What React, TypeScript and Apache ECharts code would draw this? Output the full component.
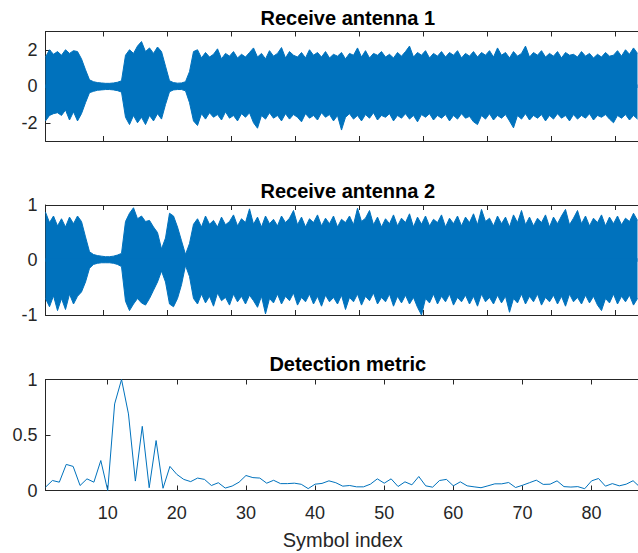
import React, { useEffect, useRef } from "react";
import * as echarts from "echarts";

// ---------- data ----------
// Envelope of the received signals, one value per 4-px column (column index on the x axis)
const ANT1_UPPER = [
  1.6, 2.0, 1.75, 1.9, 1.7, 2.0, 1.8, 1.95, 1.9, 1.5,
  0.9, 0.35,
  0.25, 0.2, 0.18, 0.16, 0.16, 0.18, 0.22, 0.3,
  1.7, 2.0, 1.8, 2.2, 2.45, 1.9, 2.1, 1.8, 2.15, 1.9, 1.1,
  0.3, 0.2, 0.17, 0.18, 0.25,
  0.8, 1.9, 2.0, 1.55, 1.85, 1.6, 1.75, 2.05, 1.5, 1.8,
  1.65, 1.9, 1.55, 1.75, 1.6, 1.85, 2.1, 1.6, 1.8, 1.5,
  1.95, 1.65, 1.8, 2.12, 1.55, 1.9, 1.7, 1.6, 1.85, 1.55,
  2.0, 1.7, 1.85, 1.6, 1.9, 1.55, 1.75, 1.65, 1.85, 1.5,
  1.8, 1.7, 2.1, 1.6, 1.95, 1.55, 1.8, 1.7, 1.9, 1.6,
  1.75, 1.55, 1.85, 1.65, 1.9, 2.2, 1.6, 1.85, 1.7, 1.95,
  1.55, 1.8, 1.65, 1.9, 1.6, 1.85, 1.7, 1.95, 1.55, 1.8,
  1.65, 1.9, 1.6, 1.85, 1.7, 1.95, 1.6, 2.1, 1.7, 1.85,
  1.55, 1.9, 1.65, 1.8, 2.2, 1.6, 1.85, 1.7, 1.95, 1.6,
  1.8, 1.65, 1.9, 1.55, 1.85, 1.7, 1.75, 1.6, 1.9, 1.65,
  1.8, 1.55, 1.75, 1.6, 1.85, 1.65, 1.7, 1.95, 1.65, 2.0,
  1.75, 2.1, 1.8,
];
const ANT1_LOWER = [
  -1.9, -1.6, -1.5, -1.45, -1.6, -1.3, -1.85, -1.4, -1.9, -1.5,
  -0.9, -0.35,
  -0.28, -0.22, -0.2, -0.18, -0.18, -0.2, -0.24, -0.32,
  -1.7, -2.1, -1.6, -2.0, -1.7, -2.1, -1.6, -1.9, -1.5, -1.8, -1.0,
  -0.3, -0.2, -0.18, -0.18, -0.25,
  -0.9, -1.9, -2.15, -1.5, -1.8, -1.45, -1.7, -1.55, -1.85, -1.4,
  -1.75, -1.6, -1.9, -1.5, -1.7, -1.45, -2.0, -2.3, -1.6, -1.8,
  -1.45, -1.75, -1.6, -1.9, -1.5, -1.8, -1.55, -1.7, -1.95, -1.5,
  -1.75, -1.6, -1.85, -1.45, -1.7, -1.55, -1.9, -1.6, -2.4, -1.7,
  -1.5, -1.8, -1.6, -1.9, -1.55, -1.75, -1.45, -1.85, -1.6, -1.7,
  -1.5, -1.9, -1.6, -1.75, -1.5, -1.8, -1.6, -1.95, -1.55, -1.7,
  -1.5, -1.85, -1.6, -1.75, -1.55, -1.9, -1.6, -1.8, -1.5, -1.75,
  -1.65, -1.95, -2.1, -1.6, -1.8, -1.5, -1.85, -1.6, -1.75, -1.55,
  -1.9, -2.28, -1.6, -1.8, -1.5, -1.85, -1.6, -1.75, -1.55, -1.9,
  -1.6, -1.8, -1.5, -1.75, -1.6, -1.9, -1.55, -1.8, -1.6, -1.75,
  -1.5, -1.85, -1.6, -1.7, -1.55, -1.8, -2.0, -1.6, -1.75, -1.55,
  -1.85, -1.6, -1.8,
];
const ANT2_UPPER = [
  0.87, 0.68, 0.8, 0.62, 0.75, 0.6, 0.78, 0.66, 0.8, 0.7,
  0.42, 0.15,
  0.1, 0.08, 0.07, 0.06, 0.06, 0.07, 0.09, 0.12,
  0.7, 0.85, 0.95, 0.75, 0.8, 0.7, 0.72, 0.6, 0.5, 0.2,
  0.4, 0.85, 0.8, 0.6, 0.35, 0.1, 0.3, 0.65,
  0.75, 0.6, 0.8, 0.65, 0.72, 0.6, 0.78, 0.64, 0.7, 0.82,
  0.62, 0.75, 0.68, 0.93, 0.65, 0.78, 0.6, 0.8, 0.66, 0.74,
  0.62, 0.8, 0.68, 0.76, 0.9, 0.64, 0.78, 0.6, 0.75, 0.68,
  0.82, 0.62, 0.76, 0.66, 0.8, 0.6, 0.74, 0.68, 0.8, 0.64,
  0.94, 0.7, 0.76, 0.9, 0.64, 0.78, 0.6, 0.75, 0.66, 0.82,
  0.62, 0.76, 0.68, 0.84, 0.6, 0.78, 0.65, 0.8, 0.62, 0.74,
  0.68, 0.82, 0.6, 0.76, 0.66, 0.8, 0.62, 0.78, 0.68, 0.84,
  0.64, 0.92, 0.7, 0.76, 0.62, 0.8, 0.66, 0.78, 0.6, 0.82,
  0.68, 0.9, 0.64, 0.78, 0.62, 0.76, 0.68, 0.82, 0.6, 0.78,
  0.66, 0.8, 0.92, 0.64, 0.76, 0.9, 0.66, 0.8, 0.62, 0.76,
  0.68, 0.82, 0.62, 0.78, 0.66, 0.8, 0.64, 0.76, 0.7, 0.85,
  0.72,
];
const ANT2_LOWER = [
  -0.7, -0.85, -0.65, -0.92, -0.7, -0.9, -0.62, -0.8, -0.66, -0.58,
  -0.4, -0.15,
  -0.08, -0.06, -0.05, -0.05, -0.05, -0.06, -0.08, -0.12,
  -0.75, -0.92, -0.8, -0.7, -0.78, -0.82, -0.7, -0.55, -0.4, -0.2,
  -0.4, -0.8, -0.85, -0.7, -0.45, -0.1, -0.3, -0.7,
  -0.8, -0.62, -0.78, -0.66, -0.84, -0.6, -0.74, -0.68, -0.82, -0.62,
  -0.76, -0.66, -0.8, -0.64, -0.74, -0.86, -0.66, -0.98, -0.7, -0.78,
  -0.62, -0.8, -0.66, -0.74, -0.6, -0.82, -0.68, -0.76, -0.62, -0.8,
  -0.66, -0.84, -0.64, -0.76, -0.68, -0.8, -0.64, -0.9, -0.68, -0.76,
  -0.62, -0.82, -0.66, -0.74, -0.6, -0.8, -0.68, -0.76, -0.62, -0.84,
  -0.66, -0.78, -0.64, -0.8, -0.68, -0.86, -1.0, -0.7, -0.78, -0.62,
  -0.8, -0.66, -0.76, -0.62, -0.82, -0.68, -0.76, -0.64, -0.8, -0.66,
  -0.84, -0.62, -0.76, -0.68, -0.8, -0.64, -0.78, -0.66, -0.95, -0.7,
  -0.78, -0.62, -0.8, -0.66, -0.76, -0.62, -0.82, -0.68, -0.76, -0.64,
  -0.8, -0.66, -0.84, -0.62, -0.76, -0.68, -0.8, -0.64, -0.78, -0.66,
  -0.82, -0.92, -0.7, -0.78, -0.62, -0.8, -0.66, -0.76, -0.64, -0.82,
  -0.7,
];

// Detection metric, symbol index 1..87
const METRIC = [
  0.03, 0.09, 0.075, 0.235, 0.217, 0.045, 0.105, 0.075, 0.27, 0.0,
  0.78, 1.0, 0.69, 0.085, 0.578, 0.025, 0.45, 0.02, 0.217, 0.145,
  0.1, 0.08, 0.112, 0.1, 0.045, 0.07, 0.022, 0.04, 0.075, 0.135,
  0.116, 0.112, 0.066, 0.092, 0.062, 0.062, 0.066, 0.056, 0.017, 0.057,
  0.064, 0.087, 0.07, 0.039, 0.045, 0.033, 0.033, 0.057, 0.105, 0.066,
  0.105, 0.036, 0.078, 0.051, 0.126, 0.042, 0.03, 0.09, 0.1, 0.042,
  0.078, 0.042, 0.033, 0.025, 0.042, 0.06, 0.06, 0.072, 0.027, 0.047,
  0.07, 0.093, 0.055, 0.057, 0.087, 0.035, 0.031, 0.035, 0.016, 0.087,
  0.108, 0.039, 0.062, 0.042, 0.057, 0.088, 0.03,
];

const SIGNAL_X_MAX = 148.625; // columns
const SIGNAL_TICKS = [14.5, 30.5, 46.5, 62.5, 78.5, 94.5, 110.5, 126.5, 142.5];
const ANT1_YTICKS = [-2, 0, 2];
const ANT2_YTICKS = [-1, 0, 1];
const METRIC_YTICKS = [0, 0.5, 1];
const METRIC_XTICKS = [10, 20, 30, 40, 50, 60, 70, 80];
const TITLES = ["Receive antenna 1", "Receive antenna 2", "Detection metric"];
const X_LABEL = "Symbol index";

// ---------- styles ----------
const BLUE = "#0072BD";
const AX = "#262626";
const FONT = '"Liberation Sans", Arial, Helvetica, sans-serif';
const TICK_FS = 18;
const TITLE_FS = 20;

export default function App() {
  const ref = useRef<HTMLDivElement>(null);

  useEffect(() => {
    if (!ref.current) return;
    const chart = echarts.init(ref.current, undefined, { renderer: "svg" });

    const grids = [
      { left: 45.5, right: 20, top: 31.5, height: 109.5 },
      { left: 45.5, right: 20, top: 205, height: 110 },
      { left: 45.5, right: 20, top: 379.5, height: 111 },
    ];

    const boxX = (gridIndex: number, position: string, min: number, max: number, ticks: number[], labels: boolean, extra: any = {}) => ({
      type: "value",
      gridIndex,
      position,
      min,
      max,
      axisLine: { show: true, onZero: false, lineStyle: { color: AX, width: 1 } },
      axisTick: { show: true, inside: true, length: 5, customValues: ticks, lineStyle: { color: AX, width: 1 } },
      axisLabel: labels
        ? { show: true, customValues: ticks, color: AX, fontSize: TICK_FS, fontFamily: FONT, margin: 13 }
        : { show: false },
      splitLine: { show: false },
      ...extra,
    });

    const yAx = (gridIndex: number, min: number, max: number, ticks: number[]) => ({
      type: "value",
      gridIndex,
      min,
      max,
      axisLine: { show: true, onZero: false, lineStyle: { color: AX, width: 1 } },
      axisTick: { show: true, inside: true, length: 5, customValues: ticks, lineStyle: { color: AX, width: 1 } },
      axisLabel: { show: true, customValues: ticks, color: AX, fontSize: TICK_FS, fontFamily: FONT, margin: 8 },
      splitLine: { show: false },
    });

    // filled envelope; origin slightly past zero so the two halves overlap (no seam)
    const env = (data: number[], xi: number, yi: number, origin: number) => ({
      type: "line",
      xAxisIndex: xi,
      yAxisIndex: yi,
      data: data.map((v, i) => [i, v]),
      symbol: "none",
      lineStyle: { color: BLUE, width: 1 },
      areaStyle: { color: BLUE, opacity: 1, origin },
      silent: true,
    });

    const titleTops = [3, 176, 349];

    chart.setOption({
      animation: false,
      backgroundColor: "#ffffff",
      title: TITLES.map((t, i) => ({
        text: t,
        left: 342.75,
        top: titleTops[i],
        textAlign: "center",
        textStyle: { fontFamily: FONT, fontSize: TITLE_FS, fontWeight: "bold", color: "#000000" },
      })),
      grid: grids,
      xAxis: [
        boxX(0, "bottom", 0, SIGNAL_X_MAX, SIGNAL_TICKS, false),
        boxX(0, "top", 0, SIGNAL_X_MAX, SIGNAL_TICKS, false),
        boxX(1, "bottom", 0, SIGNAL_X_MAX, SIGNAL_TICKS, false),
        boxX(1, "top", 0, SIGNAL_X_MAX, SIGNAL_TICKS, false),
        boxX(2, "bottom", 1, 87, METRIC_XTICKS, true, {
          name: X_LABEL,
          nameLocation: "middle",
          nameGap: 39.5,
          nameTextStyle: { fontFamily: FONT, fontSize: TITLE_FS, color: AX },
        }),
        boxX(2, "top", 1, 87, METRIC_XTICKS, false),
      ],
      yAxis: [
        yAx(0, -3, 3, ANT1_YTICKS),
        yAx(1, -1, 1, ANT2_YTICKS),
        yAx(2, 0, 1, METRIC_YTICKS),
      ],
      series: [
        env(ANT1_UPPER, 0, 0, -0.1),
        env(ANT1_LOWER, 0, 0, 0.1),
        env(ANT2_UPPER, 2, 1, -0.03),
        env(ANT2_LOWER, 2, 1, 0.03),
        {
          type: "line",
          xAxisIndex: 4,
          yAxisIndex: 2,
          data: METRIC.map((v, i) => [i + 1, v]),
          symbol: "none",
          lineStyle: { color: BLUE, width: 1 },
          silent: true,
        },
      ],
    });

    return () => chart.dispose();
  }, []);

  return (
    <div style={{ position: "fixed", left: 0, top: 0, width: 638, height: 553, overflow: "hidden", background: "#fff" }}>
      <div ref={ref} style={{ width: 660, height: 553 }} />
    </div>
  );
}
